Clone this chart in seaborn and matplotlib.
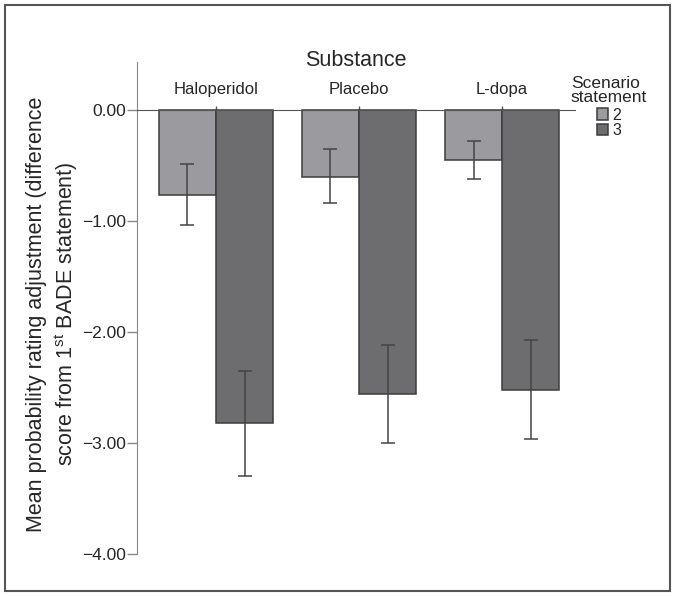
# =========================================
# BADE SCORE BY SUBSTANCE
# =========================================

import pandas as pd
import numpy as np

import matplotlib
matplotlib.use("Agg")
import matplotlib.pyplot as plt
from matplotlib.patches import Rectangle
from matplotlib.ticker import FuncFormatter
import seaborn as sns


# =========================================
# DATA
# =========================================

substances = ["Haloperidol", "Placebo", "L-dopa"]
statements = ["2", "3"]

mean_2 = [-0.77, -0.60, -0.45]
mean_3 = [-2.82, -2.56, -2.52]

low_2 = [-1.04, -0.84, -0.62]
high_2 = [-0.49, -0.35, -0.28]

low_3 = [-3.30, -3.00, -2.96]
high_3 = [-2.35, -2.12, -2.07]

y_ticks = [0, -1, -2, -3, -4]

df = pd.DataFrame({
    "Substance": substances * 2,
    "Statement": [statements[0]] * 3 + [statements[1]] * 3,
    "Score": mean_2 + mean_3
})


# =========================================
# STYLE
# =========================================

sns.set_style("white")
plt.rcParams["font.family"] = ["Liberation Sans", "DejaVu Sans"]
plt.rcParams["mathtext.fontset"] = "custom"
plt.rcParams["mathtext.rm"] = "Liberation Sans"

light = "#9b9b9f"
dark = "#6d6d70"
edge = "#3c3c3c"


# =========================================
# PLOT
# =========================================

fig = plt.figure(figsize=(6.75, 5.96), dpi=100)
ax = fig.add_axes([0.203, 0.0705, 0.649, 0.8255])

sns.barplot(
    data=df,
    x="Substance",
    y="Score",
    hue="Statement",
    order=substances,
    hue_order=statements,
    palette=[light, dark],
    errorbar=None,
    width=0.8,
    edgecolor=edge,
    linewidth=1.1,
    ax=ax
)

# error bars on top of each bar
for cont, lows, highs, means in zip(
    ax.containers,
    [low_2, low_3],
    [high_2, high_3],
    [mean_2, mean_3]
):
    xs = [p.get_x() + p.get_width() / 2 for p in cont.patches]
    m = np.array(means)
    yerr = [m - np.array(lows), np.array(highs) - m]
    ax.errorbar(
        xs, m, yerr=yerr,
        fmt="none", ecolor="#444444",
        elinewidth=1.1, capsize=5, capthick=1.1
    )

ax.set_xlim(-0.552, 2.51)
ax.set_ylim(-4.0, 0.432)

ax.set_yticks(y_ticks)
ax.yaxis.set_major_formatter(
    FuncFormatter(lambda v, p: f"{v:.2f}".replace("-", "\u2212"))
)

# x axis on top, sitting on zero
ax.xaxis.tick_top()
ax.xaxis.set_label_position("top")
ax.spines["top"].set_position(("data", 0))
ax.spines["top"].set_color("#555555")
ax.spines["left"].set_color("#888888")
ax.spines["right"].set_visible(False)
ax.spines["bottom"].set_visible(False)

ax.tick_params(axis="x", top=True, bottom=False, direction="out",
               length=3, width=1, color="#555555", pad=6, labelsize=12)
ax.tick_params(axis="y", left=True, direction="out",
               length=7, width=1, color="#888888", pad=1, labelsize=12.5)

ax.set_xlabel("Substance", fontsize=15.5, labelpad=12)
ax.set_ylabel("")

fig.text(
    53 / 675, 1 - 314 / 596,
    "Mean probability rating adjustment (difference\n"
    "score from 1$^{\\rm st}$ BADE statement)",
    rotation=90, ha="center", va="center",
    multialignment="center", fontsize=15.5
)

leg = ax.legend(
    title="Scenario\nstatement",
    loc="upper center",
    bbox_to_anchor=(609 / 675, 1 - 68 / 596),
    bbox_transform=fig.transFigure,
    frameon=False,
    fontsize=11.5,
    title_fontsize=12.5,
    handlelength=0.7,
    handleheight=0.7,
    handletextpad=0.3,
    labelspacing=0.05,
    borderpad=0
)
leg.get_title().set_linespacing(0.9)
leg._legend_box.sep = 2

# outer frame
fig.patches.append(
    Rectangle((5 / 675, 5 / 596), 665 / 675, 586 / 596,
              transform=fig.transFigure, fill=False,
              edgecolor="#555555", linewidth=1.5)
)

plt.savefig("out.png", dpi=100)
plt.close()
